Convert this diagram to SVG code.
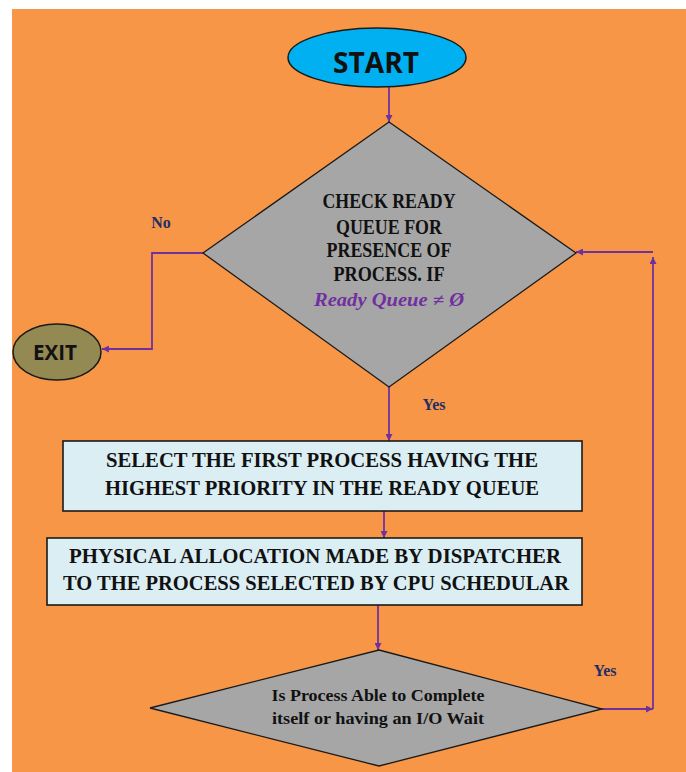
<svg xmlns="http://www.w3.org/2000/svg" width="686" height="772" viewBox="0 0 686 772">
<defs>
<marker id="ah" viewBox="0 0 10 10" refX="10" refY="5" markerWidth="7" markerHeight="7" markerUnits="userSpaceOnUse" orient="auto">
<path d="M0,0 L10,5 L0,10 z" fill="#7030a0"/>
</marker>
</defs>
<style>
.conn{fill:none;stroke:#7030a0;stroke-width:1.8;marker-end:url(#ah)}
.dia{fill:#a6a6a6;stroke:#1a1a1a;stroke-width:1.3}
.box{fill:#dbeef4;stroke:#1a1a1a;stroke-width:1.6}
.t{font-family:"Liberation Serif",serif;font-weight:bold;fill:#111;text-anchor:middle}
.lbl{font-family:"Liberation Serif",serif;font-weight:bold;fill:#1f2f66;font-size:16px;text-anchor:middle}
.term{font-family:"Open Sans","Liberation Sans",sans-serif;font-weight:bold;fill:#111;text-anchor:middle}
.math{font-family:"Liberation Serif",serif;font-weight:bold;font-style:italic;fill:#7030a0;text-anchor:middle}
</style>
<rect x="0" y="0" width="686" height="772" fill="#ffffff"/>
<rect x="12" y="9" width="674" height="763" fill="#f79646"/>

<g id="connectors">
<line class="conn" x1="389" y1="87" x2="389" y2="122"/>
<polyline class="conn" points="203,253 152,253 152,349 102,349"/>
<line class="conn" x1="389" y1="387" x2="389" y2="441"/>
<line class="conn" x1="384" y1="511" x2="384" y2="538"/>
<line class="conn" x1="378" y1="605" x2="378" y2="650"/>
<line class="conn" x1="602" y1="709" x2="653" y2="709"/>
<line class="conn" x1="653" y1="709" x2="653" y2="257"/>
<line class="conn" x1="653" y1="252" x2="576" y2="252"/>
<text class="lbl" x="161" y="228">No</text>
<text class="lbl" x="434" y="410">Yes</text>
<text class="lbl" x="605" y="676">Yes</text>
</g>

<g id="start">
<ellipse cx="377" cy="57.5" rx="89" ry="29.5" fill="#00b0f0" stroke="#1a1a1a" stroke-width="1.5"/>
<text class="term" x="376" y="73" font-size="29" textLength="86" lengthAdjust="spacingAndGlyphs">START</text>
</g>

<g id="exit">
<ellipse cx="57" cy="352" rx="44" ry="28" fill="#938953" stroke="#1a1a1a" stroke-width="1.5"/>
<text class="term" x="55" y="360" font-size="21" textLength="44" lengthAdjust="spacingAndGlyphs">EXIT</text>
</g>

<g id="check">
<polygon class="dia" points="389,122 576,253 389,387 203,253"/>
<text class="t" x="389" y="208" font-size="21" textLength="133" lengthAdjust="spacingAndGlyphs">CHECK READY</text>
<text class="t" x="389" y="234" font-size="21" textLength="106" lengthAdjust="spacingAndGlyphs">QUEUE FOR</text>
<text class="t" x="389" y="257" font-size="21" textLength="125" lengthAdjust="spacingAndGlyphs">PRESENCE OF</text>
<text class="t" x="389" y="281" font-size="21" textLength="111" lengthAdjust="spacingAndGlyphs">PROCESS. IF</text>
<text class="math" x="389" y="306" font-size="18" textLength="150" lengthAdjust="spacingAndGlyphs">Ready Queue ≠ Ø</text>
</g>

<g id="select">
<rect class="box" x="63" y="441" width="519" height="70"/>
<text class="t" x="322" y="467" font-size="20" textLength="432" lengthAdjust="spacingAndGlyphs">SELECT THE FIRST PROCESS HAVING THE</text>
<text class="t" x="322" y="495" font-size="20" textLength="434" lengthAdjust="spacingAndGlyphs">HIGHEST PRIORITY IN THE READY QUEUE</text>
</g>

<g id="dispatch">
<rect class="box" x="47" y="538" width="535" height="67"/>
<text class="t" x="315" y="563" font-size="20" textLength="492" lengthAdjust="spacingAndGlyphs">PHYSICAL ALLOCATION MADE BY DISPATCHER</text>
<text class="t" x="316" y="590" font-size="20" textLength="506" lengthAdjust="spacingAndGlyphs">TO THE PROCESS SELECTED BY CPU SCHEDULAR</text>
</g>

<g id="complete">
<polygon class="dia" points="379,650 602,709 379,766 150,708"/>
<text class="t" x="378" y="701" font-size="17" textLength="213" lengthAdjust="spacingAndGlyphs">Is Process Able to Complete</text>
<text class="t" x="378" y="724" font-size="17" textLength="212" lengthAdjust="spacingAndGlyphs">itself or having an I/O Wait</text>
</g>
</svg>
